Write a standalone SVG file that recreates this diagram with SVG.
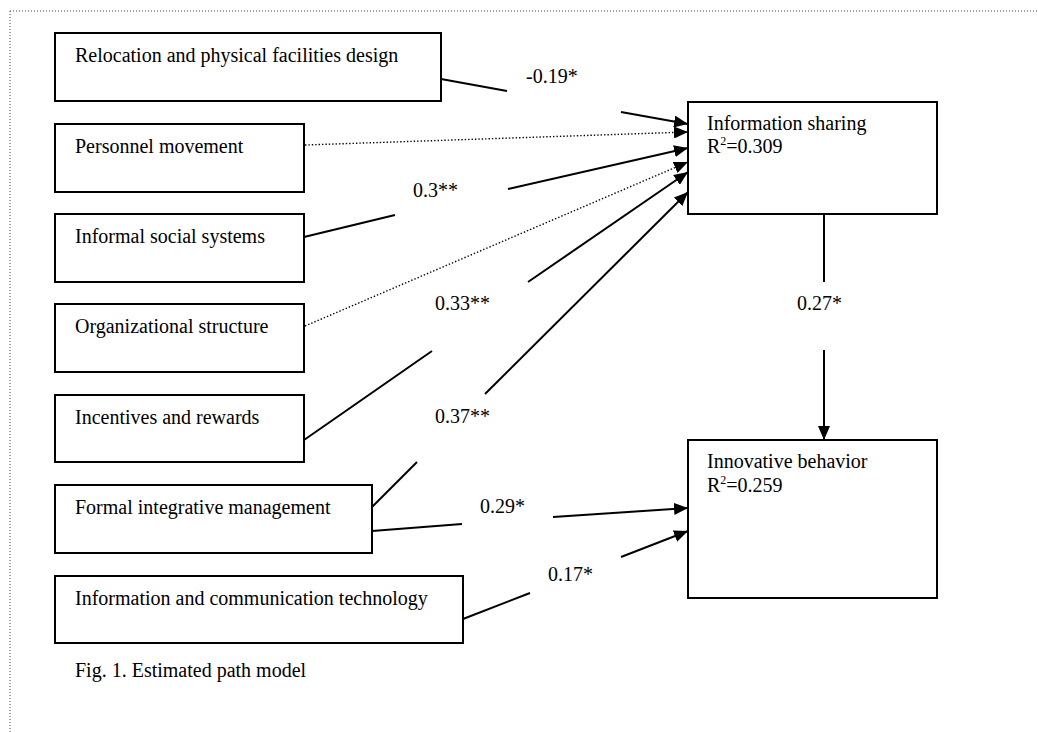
<svg xmlns="http://www.w3.org/2000/svg" width="1038" height="732" viewBox="0 0 1038 732">
<style>
  .box { fill: #fff; stroke: #000; stroke-width: 2; }
  .t { font-family: "Liberation Serif", "Times New Roman", serif; font-size: 20px; fill: #000; }
  .sup { font-size: 12px; }
  .ln { stroke: #000; stroke-width: 2; fill: none; }
  .dot { stroke: #000; stroke-width: 1.4; stroke-dasharray: 1.4 2; fill: none; }
  .frame { stroke: #444; stroke-width: 1; stroke-dasharray: 1 2; fill: none; }
</style>
<defs>
  <marker id="arr" markerUnits="userSpaceOnUse" markerWidth="14" markerHeight="12" refX="14" refY="6" orient="auto">
    <path d="M0,0 L14,6 L0,12 Z" fill="#000"/>
  </marker>
</defs>
<rect width="1038" height="732" fill="#fff"/>
<g id="frame">
  <line class="frame" x1="10" y1="11" x2="1038" y2="11"/>
  <line class="frame" x1="10" y1="11" x2="10" y2="732"/>
</g>
<g id="connectors">
  <line class="ln" x1="441" y1="79" x2="507" y2="91"/>
  <line class="ln" x1="621" y1="112" x2="688" y2="124" marker-end="url(#arr)"/>
  <line class="dot" x1="305" y1="145" x2="688" y2="132" marker-end="url(#arr)"/>
  <line class="ln" x1="304" y1="237" x2="395" y2="215"/>
  <line class="ln" x1="508" y1="189" x2="688" y2="148" marker-end="url(#arr)"/>
  <line class="dot" x1="305" y1="326" x2="688" y2="162" marker-end="url(#arr)"/>
  <line class="ln" x1="304" y1="440" x2="432" y2="351"/>
  <line class="ln" x1="528" y1="282" x2="688" y2="172" marker-end="url(#arr)"/>
  <line class="ln" x1="372" y1="507" x2="417" y2="462"/>
  <line class="ln" x1="485" y1="394" x2="688" y2="192" marker-end="url(#arr)"/>
  <line class="ln" x1="372" y1="531" x2="462" y2="524"/>
  <line class="ln" x1="553" y1="517" x2="688" y2="508" marker-end="url(#arr)"/>
  <line class="ln" x1="463" y1="619" x2="530" y2="593"/>
  <line class="ln" x1="621" y1="557" x2="688" y2="531" marker-end="url(#arr)"/>
  <line class="ln" x1="824" y1="214" x2="824" y2="282"/>
  <line class="ln" x1="824" y1="350" x2="824" y2="440" marker-end="url(#arr)"/>
  <text class="t" x="526" y="83">-0.19*</text>
  <text class="t" x="413" y="197">0.3**</text>
  <text class="t" x="435" y="310">0.33**</text>
  <text class="t" x="435" y="423">0.37**</text>
  <text class="t" x="480" y="513">0.29*</text>
  <text class="t" x="548" y="581">0.17*</text>
  <text class="t" x="797" y="310">0.27*</text>
</g>
<g id="relocation">
  <rect class="box" x="55" y="33" width="386" height="68"/>
  <text class="t" x="75" y="62">Relocation and physical facilities design</text>
</g>
<g id="personnel">
  <rect class="box" x="55" y="124" width="249" height="68"/>
  <text class="t" x="75" y="153">Personnel movement</text>
</g>
<g id="informal">
  <rect class="box" x="55" y="214" width="249" height="68"/>
  <text class="t" x="75" y="243">Informal social systems</text>
</g>
<g id="organizational">
  <rect class="box" x="55" y="304" width="249" height="68"/>
  <text class="t" x="75" y="333">Organizational structure</text>
</g>
<g id="incentives">
  <rect class="box" x="55" y="395" width="249" height="67"/>
  <text class="t" x="75" y="424">Incentives and rewards</text>
</g>
<g id="formal">
  <rect class="box" x="55" y="485" width="317" height="68"/>
  <text class="t" x="75" y="514">Formal integrative management</text>
</g>
<g id="ict">
  <rect class="box" x="55" y="576" width="408" height="67"/>
  <text class="t" x="75" y="605">Information and communication technology</text>
</g>
<g id="info-sharing">
  <rect class="box" x="688" y="102" width="249" height="112"/>
  <text class="t" x="707" y="130">Information sharing</text>
  <text class="t" x="707" y="153">R<tspan class="sup" dy="-8">2</tspan><tspan dy="8">=0.309</tspan></text>
</g>
<g id="innovative">
  <rect class="box" x="688" y="440" width="249" height="158"/>
  <text class="t" x="707" y="468">Innovative behavior</text>
  <text class="t" x="707" y="492">R<tspan class="sup" dy="-8">2</tspan><tspan dy="8">=0.259</tspan></text>
</g>
<text class="t" x="75" y="677">Fig. 1. Estimated path model</text>
</svg>
